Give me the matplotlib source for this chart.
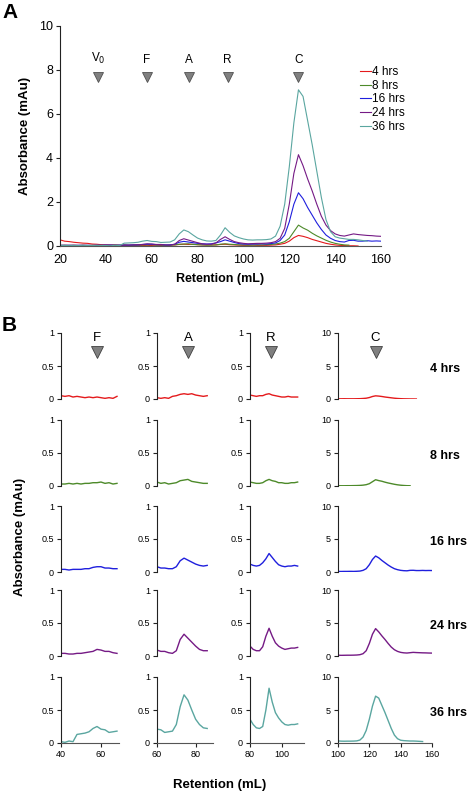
import numpy as np
import matplotlib
matplotlib.use('Agg')
import matplotlib.pyplot as plt

plt.rcParams['font.family'] = ['Liberation Sans', 'DejaVu Sans']

# retention grid (mL) and absorbance readings (mAu) for each incubation time
retention = np.arange(20, 162, 2)
nan = np.nan

abs_4h = [0.28, 0.22, 0.20, 0.17, 0.15, 0.13, 0.12, 0.09, 0.08, 0.06,
          0.05, 0.04, 0.05, 0.03, 0.04, 0.03, 0.02, 0.03, 0.02, 0.03,
          0.02, 0.01, 0.02, 0.01, 0.04, 0.05, 0.07, 0.08, 0.07, 0.08,
          0.06, 0.05, 0.04, 0.05, 0.05, 0.07, 0.08, 0.06, 0.05, 0.04,
          0.03, 0.03, 0.04, 0.03, 0.03, 0.03, 0.04, 0.05, 0.08, 0.12,
          0.22, 0.38, 0.48, 0.44, 0.38, 0.30, 0.24, 0.18, 0.12, 0.08,
          0.05, 0.03, 0.02, 0.01, 0.01, 0.00, nan, nan, nan, nan,
          nan]
abs_8h = [0.02, 0.03, 0.02, 0.03, 0.02, 0.03, 0.02, 0.03, 0.02, 0.03,
          0.03, 0.03, 0.04, 0.03, 0.04, 0.03, 0.04, 0.04, 0.05, 0.05,
          0.06, 0.04, 0.05, 0.03, 0.04, 0.05, 0.08, 0.09, 0.10, 0.07,
          0.06, 0.05, 0.04, 0.04, 0.05, 0.08, 0.10, 0.08, 0.07, 0.05,
          0.05, 0.04, 0.04, 0.05, 0.05, 0.06, 0.07, 0.09, 0.13, 0.20,
          0.35, 0.65, 0.95, 0.82, 0.72, 0.58, 0.46, 0.36, 0.26, 0.18,
          0.12, 0.08, 0.05, 0.04, nan, nan, nan, nan, nan, nan,
          nan]
abs_16h = [0.03, 0.02, 0.03, 0.02, 0.03, 0.02, 0.03, 0.02, 0.03, 0.03,
           0.04, 0.04, 0.03, 0.04, 0.04, 0.04, 0.05, 0.05, 0.07, 0.08,
           0.08, 0.06, 0.06, 0.05, 0.05, 0.08, 0.17, 0.21, 0.18, 0.15,
           0.12, 0.10, 0.09, 0.10, 0.14, 0.20, 0.28, 0.22, 0.16, 0.11,
           0.09, 0.08, 0.09, 0.09, 0.10, 0.09, 0.11, 0.14, 0.25, 0.50,
           1.10, 1.90, 2.42, 2.15, 1.75, 1.40, 1.05, 0.75, 0.50, 0.35,
           0.25, 0.20, 0.18, 0.25, 0.26, 0.22, 0.22, 0.24, 0.22, 0.23,
           0.22]
abs_24h = [0.03, 0.04, 0.03, 0.04, 0.03, 0.04, 0.03, 0.03, 0.04, 0.03,
           0.04, 0.04, 0.03, 0.03, 0.04, 0.04, 0.05, 0.06, 0.07, 0.10,
           0.09, 0.07, 0.07, 0.05, 0.04, 0.08, 0.25, 0.33, 0.27, 0.21,
           0.15, 0.10, 0.08, 0.08, 0.14, 0.30, 0.42, 0.30, 0.20, 0.15,
           0.12, 0.10, 0.11, 0.12, 0.12, 0.13, 0.15, 0.20, 0.35, 0.80,
           1.90, 3.30, 4.15, 3.65, 3.05, 2.50, 1.90, 1.35, 0.95, 0.70,
           0.55, 0.48, 0.45, 0.50, 0.55, 0.52, 0.50, 0.48, 0.47, 0.45,
           0.44]
abs_36h = [0.03, 0.02, 0.03, 0.02, 0.02, 0.03, 0.02, 0.02, 0.03, 0.02,
           0.02, 0.01, 0.03, 0.02, 0.13, 0.14, 0.15, 0.17, 0.22, 0.25,
           0.21, 0.20, 0.16, 0.17, 0.18, 0.28, 0.55, 0.73, 0.65, 0.50,
           0.36, 0.28, 0.23, 0.22, 0.25, 0.50, 0.83, 0.62, 0.46, 0.38,
           0.32, 0.28, 0.27, 0.28, 0.28, 0.29, 0.32, 0.45, 0.90, 1.90,
           3.60, 5.60, 7.10, 6.80, 5.70, 4.60, 3.40, 2.20, 1.20, 0.65,
           0.42, 0.36, 0.33, 0.30, 0.30, 0.28, 0.25, 0.22, nan, nan,
           nan]

labels = ['4 hrs', '8 hrs', '16 hrs', '24 hrs', '36 hrs']
colors = ['#e41a1c', '#4d8a2a', '#1f1fdd', '#751a85', '#5aa6a0']
series = [abs_4h, abs_8h, abs_16h, abs_24h, abs_36h]

# standards (marker label, retention)
std_names = ['V$_0$', 'F', 'A', 'R', 'C']
std_pos = [36.6, 57.8, 76.1, 93.1, 124.0]

# panel B: retention window shown for each standard
win_lo = [40, 60, 80, 100]
win_hi = [68, 86, 110, 160]

W, H = 472, 794
fig = plt.figure(figsize=(W / 100, H / 100), dpi=100)


def px_axes(left, top, right, bottom):
    return fig.add_axes([left / W, 1 - bottom / H, (right - left) / W, (bottom - top) / H])


def style(ax, size, show_x=True):
    for s in ['top', 'right']:
        ax.spines[s].set_visible(False)
    ax.spines['left'].set_color('#222222')
    ax.spines['bottom'].set_color('#555555')
    ax.tick_params(axis='both', direction='out', labelsize=size, length=3, width=0.8,
                   color='#222222', pad=2)
    if not show_x:
        ax.spines['bottom'].set_visible(False)
        ax.tick_params(axis='x', bottom=False, labelbottom=False)


# ---- Panel A ----
axA = px_axes(60, 26, 381, 246)
for y, c, lab in zip(series, colors, labels):
    axA.plot(retention, y, color=c, lw=0.8, label=lab)
axA.set_xlim(20, 160)
axA.set_ylim(0, 10)
axA.set_xticks(range(20, 161, 20))
axA.set_yticks(range(0, 11, 2))
style(axA, 9)
axA.tick_params(axis='x', length=0, pad=6)
axA.set_xlabel('Retention (mL)', fontsize=9, fontweight='bold', labelpad=5)
axA.set_ylabel('Absorbance (mAu)', fontsize=9.5, fontweight='bold', labelpad=6)
for name, p in zip(std_names, std_pos):
    axA.plot(p, 7.7, marker='v', ms=7, mfc='#808080', mec='#505050', mew=0.6, clip_on=False)
    axA.text(p, 8.2, name, ha='center', va='bottom', fontsize=8.5)
leg = axA.legend(loc='upper left', bbox_to_anchor=(0.92, 0.84), frameon=False, fontsize=8.5,
                 handlelength=0.9, handletextpad=0.1, labelspacing=0.15, borderaxespad=0)
fig.text(2 / W, 1 - 12 / H, 'A', fontsize=15, fontweight='bold', va='center')

# ---- Panel B ----
col_px = [(61, 119), (157, 213), (250, 304), (338, 432)]
col_lims = [(40, 69), (60, 89), (80, 114), (100, 160)]
col_ticks = [[40, 60], [60, 80], [80, 100], [100, 120, 140, 160]]
row_tops = [333, 420, 506, 590, 677]
row_h = 66

for r, (y, c, lab) in enumerate(zip(series, colors, labels)):
    top = row_tops[r]
    yv = np.array(y)
    for k in range(4):
        left, right = col_px[k]
        ax = px_axes(left, top, right, top + row_h)
        m = (retention >= win_lo[k]) & (retention <= win_hi[k])
        ax.plot(retention[m], yv[m], color=c, lw=1.0)
        ax.set_xlim(*col_lims[k])
        ymax = 10 if k == 3 else 1
        ax.set_ylim(0, ymax)
        ax.set_yticks([0, ymax / 2, ymax])
        ax.set_yticklabels(['0', '5', '10'] if k == 3 else ['0', '0.5', '1'])
        ax.set_xticks(col_ticks[k])
        style(ax, 6.5, show_x=(r == 4))
        if r == 0:
            s = k + 1
            ax.plot(std_pos[s], 0.71 * ymax, marker='v', ms=9, mfc='#808080', mec='#404040',
                    mew=0.6, clip_on=False)
            ax.text(std_pos[s], 0.83 * ymax, std_names[s], ha='center', va='bottom', fontsize=9.5)
    fig.text(430 / W, 1 - (top + row_h / 2 + 3) / H, lab, fontsize=9, fontweight='bold', va='center')

fig.text(2 / W, 1 - 325 / H, 'B', fontsize=15, fontweight='bold', va='center')
fig.text(20 / W, 1 - 537 / H, 'Absorbance (mAu)', fontsize=9.5, fontweight='bold',
         rotation=90, ha='center', va='center')
fig.text(220 / W, 1 - 785 / H, 'Retention (mL)', fontsize=9.5, fontweight='bold',
         ha='center', va='center')

fig.savefig('out.png', dpi=100)
